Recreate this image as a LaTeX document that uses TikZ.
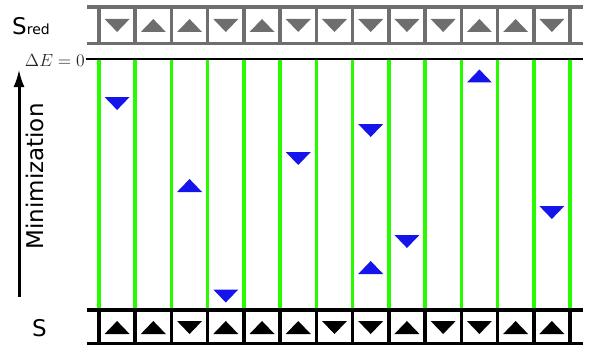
\documentclass[tikz,border=0pt]{standalone}
\usepackage{fontspec}
\newfontfamily\lab{DejaVu Sans}
\usetikzlibrary{arrows.meta}
\definecolor{lime}{RGB}{40,250,0}
\definecolor{tblue}{RGB}{20,20,235}
\definecolor{fgray}{RGB}{110,110,110}
\tikzset{
  tridn/.pic={\fill (-12.5,-6.5) -- (12.5,-6.5) -- (0,6.5) -- cycle;},
  triup/.pic={\fill (-12.5,6.5) -- (12.5,6.5) -- (0,-6.5) -- cycle;},
  frameline/.style={line width=3.5pt},
  levelline/.style={lime,line width=3.5pt},
  lbl/.style={inner sep=0pt},
}
\begin{document}
\begin{tikzpicture}[x=1pt,y=-1pt]
\useasboundingbox (0,0) rectangle (589,345);
% top frame (S_red)
\draw[frameline,fgray] (87,7) -- (583,7) (87,43.5) -- (583,43.5);
\foreach \i in {0,...,13} \draw[frameline,fgray] ({99+36.23*\i},7) -- ({99+36.23*\i},43.5);
\foreach \t [count=\k from 0] in {dn,up,up,dn,up,dn,dn,dn,dn,dn,up,up,dn}
  \pic[color=fgray] at ({117.1+36.23*\k},25.5) {tri\t};
% Delta E = 0 line
\draw[line width=2pt] (86,59.5) -- (583,59.5);
% green levels
\foreach \i in {0,...,13} \draw[levelline] ({99+36.23*\i},60.5) -- ({99+36.23*\i},308.5);
% bottom frame (S)
\draw[frameline] (87,310) -- (583,310) (87,343.5) -- (583,343.5);
\foreach \i in {0,...,13} \draw[frameline] ({99+36.23*\i},310) -- ({99+36.23*\i},343.5);
\foreach \t [count=\k from 0] in {up,up,dn,up,up,up,dn,dn,up,dn,dn,up,up}
  \pic[color=black] at ({117.1+36.23*\k},327.5) {tri\t};
% blue flips
\foreach \c/\t/\y in {0/dn/103.5,2/up/185.5,3/dn/296,5/dn/158.5,7/dn/130.5,7/up/267.5,8/dn/241.5,10/up/76,12/dn/212.5}
  \pic[color=tblue] at ({117.1+36.23*\c},\y) {tri\t};
% labels
\node[lbl,anchor=base west] (sred) at (12,35) {\lab\fontsize{23}{23}\selectfont S\fontsize{14}{14}\selectfont red};
\node[lbl,anchor=base] (s) at (39.5,336) {\lab\fontsize{23}{23}\selectfont S};
\node[lbl,anchor=east,text=black!85,scale=1.22] (de) at (85,60) {\fontsize{14.4}{14.4}\selectfont $\Delta E=0$};
\coordinate (abot) at (19,297);
\coordinate (atop) at (19,69);
\draw[line width=3pt,-{Latex[length=18pt,width=11pt]}] (abot) -- (atop);
\node[lbl,rotate=90,anchor=base] (mini) at (43,176.5) {\lab\fontsize{23}{23}\selectfont Minimization};
\end{tikzpicture}
\end{document}
